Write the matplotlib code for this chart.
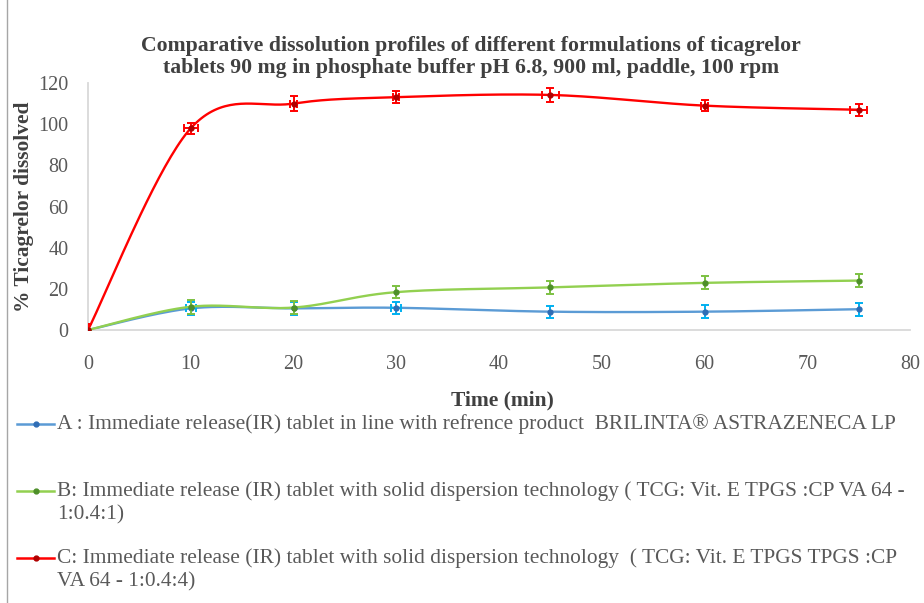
import numpy as np
import matplotlib
matplotlib.use("Agg")
import matplotlib.pyplot as plt
from matplotlib.lines import Line2D

# Dissolution data (% ticagrelor dissolved vs. time in minutes)
time_min = [0, 10, 20, 30, 45, 60, 75]
series_a = [0, 10.5, 10.5, 10.8, 8.9, 8.9, 10.1]
series_b = [0, 11.3, 10.9, 18.4, 20.7, 22.9, 24.0]
series_c = [0, 98.0, 110.0, 113.1, 114.2, 109.0, 107.0]
yerr_a = [0, 3.0, 3.0, 3.0, 3.0, 3.3, 3.1]
yerr_b = [0, 3.3, 3.3, 3.0, 3.3, 3.2, 3.2]
yerr_c = [3.0, 2.8, 3.5, 3.0, 3.2, 2.8, 2.9]
xerr_a = [0, 0.5, 0, 0.5, 0, 0, 0]
xerr_b = [0, 0, 0, 0, 0, 0, 0]
xerr_c = [0, 0.7, 0.3, 0.3, 0.8, 0.3, 0.8]

x_ticks = [0, 10, 20, 30, 40, 50, 60, 70, 80]
y_ticks = [0, 20, 40, 60, 80, 100, 120]

title = ("Comparative dissolution profiles of different formulations of ticagrelor\n"
         "tablets 90 mg in phosphate buffer pH 6.8, 900 ml, paddle, 100 rpm")
x_label = "Time (min)"
y_label = "% Ticagrelor dissolved"
legend_labels = [
    ["A : Immediate release(IR) tablet in line with refrence product  BRILINTA\u00ae ASTRAZENECA LP"],
    ["B: Immediate release (IR) tablet with solid dispersion technology ( TCG: Vit. E TPGS :CP VA 64 -",
     "1:0.4:1)"],
    ["C: Immediate release (IR) tablet with solid dispersion technology  ( TCG: Vit. E TPGS TPGS :CP",
     "VA 64 - 1:0.4:4)"],
]

line_colors = ["#5B9BD5", "#92D050", "#FF0000"]
marker_colors = ["#2F6DB5", "#4E8F2A", "#B00000"]
err_colors = ["#00B0F0", "#7DC142", "#FF0000"]

W, H = 924, 603
plt.rcParams["font.family"] = ["Liberation Serif", "DejaVu Serif"]
fig = plt.figure(figsize=(W / 100, H / 100), dpi=100)
ax = fig.add_axes([88 / W, 1 - 330 / H, (910 - 88) / W, (330 - 83) / H])
ax.set_xlim(0, 80)
ax.set_ylim(0, 120)


def smooth_curve(ax, xs, ys, n=40):
    """Bezier smoothing in display space, like a spreadsheet 'smoothed line'."""
    pts = ax.transData.transform(np.column_stack([xs, ys]))
    P = np.vstack([pts[0], pts, pts[-1]])
    segs = []
    t = np.linspace(0, 1, n)[:, None]
    for i in range(1, len(P) - 2):
        p0, p1, p2, p3 = P[i - 1], P[i], P[i + 1], P[i + 2]
        c1 = p1 + (p2 - p0) / 6.0
        c2 = p2 - (p3 - p1) / 6.0
        seg = (1 - t) ** 3 * p1 + 3 * (1 - t) ** 2 * t * c1 + 3 * (1 - t) * t ** 2 * c2 + t ** 3 * p2
        segs.append(seg if i == 1 else seg[1:])
    curve = np.vstack(segs)
    return ax.transData.inverted().transform(curve)


series = [(series_a, yerr_a, xerr_a), (series_b, yerr_b, xerr_b), (series_c, yerr_c, xerr_c)]
for k, (ys, ye, xe) in enumerate(series):
    cx = smooth_curve(ax, time_min, ys)
    ax.plot(cx[:, 0], cx[:, 1], color=line_colors[k], lw=1.7, zorder=2 + k,
            solid_capstyle="round")
    ax.errorbar(time_min, ys, yerr=ye, fmt="none", ecolor=err_colors[k], elinewidth=1.4,
                capsize=3, capthick=1.4, zorder=3 + k)
    has_x = [i for i, v in enumerate(xe) if v > 0]
    if has_x:
        ax.errorbar([time_min[i] for i in has_x], [ys[i] for i in has_x],
                    xerr=[xe[i] for i in has_x], fmt="none", ecolor=err_colors[k],
                    elinewidth=1.4, capsize=3, capthick=1.4, zorder=3 + k)
    ax.plot(time_min, ys, "o", ms=3.5, color=marker_colors[k], mec=marker_colors[k],
            zorder=4 + k)

for s in ["top", "right"]:
    ax.spines[s].set_visible(False)
for s in ["left", "bottom"]:
    ax.spines[s].set_color("#D9D9D9")
    ax.spines[s].set_linewidth(1.3)

ax.set_xticks(x_ticks)
ax.set_yticks(y_ticks)
ax.tick_params(length=0, labelsize=14.5, labelcolor="#595959")
ax.tick_params(axis="y", pad=14)
ax.tick_params(axis="x", pad=18)

ax.set_xlabel(x_label, fontsize=15.5, fontweight="bold", color="#404040")
ax.xaxis.set_label_coords(0.5 + (502 - 499) / (910 - 88), -(400 - 330) / (330 - 83))
ax.xaxis.label.set_va("center")
ax.set_ylabel(y_label, fontsize=15.4, fontweight="bold", color="#404040")
ax.yaxis.set_label_coords(-(88 - 24) / (910 - 88), 0.5)
ax.yaxis.label.set_va("center")

fig.text(471 / W, 1 - 57 / H, title, ha="center", va="center", fontsize=15.7,
         fontweight="bold", color="#404040", linespacing=1.13)

# Legend drawn below the plot
first_line_y = [424, 491, 558]
line_gap = 23.5
for k, lines in enumerate(legend_labels):
    yf = 1 - first_line_y[k] / H
    fig.add_artist(Line2D([17 / W, 54 / W], [yf, yf], color=line_colors[k], lw=1.8,
                          transform=fig.transFigure))
    fig.add_artist(Line2D([36 / W], [yf], marker="o", ms=3.5, color=marker_colors[k],
                          transform=fig.transFigure))
    for j, txt in enumerate(lines):
        fig.text(57 / W, 1 - (first_line_y[k] + j * line_gap) / H, txt, ha="left",
                 va="center", fontsize=15.4, color="#595959")

# Chart frame edge on the left
fig.add_artist(Line2D([7.5 / W, 7.5 / W], [0, 1], color="#A6A6A6", lw=1.0,
                      transform=fig.transFigure))

fig.savefig("out.png", dpi=100)
